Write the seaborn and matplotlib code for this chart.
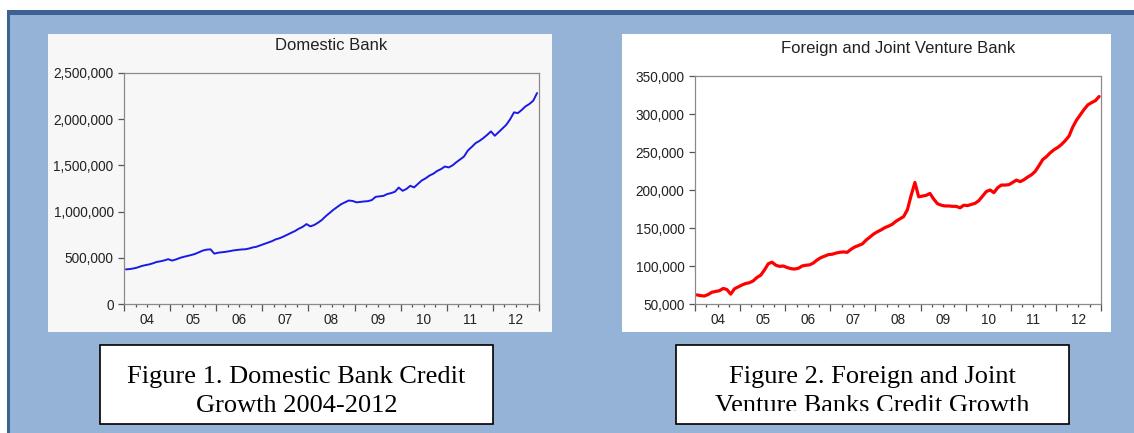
import numpy as np
import matplotlib
matplotlib.use('Agg')
import matplotlib.pyplot as plt
from matplotlib.patches import Rectangle
from matplotlib.ticker import FixedLocator, FuncFormatter
import seaborn as sns

# ── Data (monthly, Jan 2004 - Dec 2012, in thousands) ──
YEAR_LABELS = ['04', '05', '06', '07', '08', '09', '10', '11', '12']

DOMESTIC = [
    375, 378, 385, 395, 410, 420, 428, 440, 455, 462, 472, 485,          # 2004
    470, 482, 498, 510, 520, 530, 542, 560, 578, 588, 592, 545,          # 2005
    555, 560, 565, 572, 580, 585, 590, 592, 600, 612, 620, 635,          # 2006
    650, 665, 680, 700, 712, 730, 750, 770, 790, 815, 835, 865,          # 2007
    840, 855, 880, 910, 950, 985, 1020, 1050, 1080, 1100, 1120, 1115,    # 2008
    1100, 1105, 1110, 1113, 1125, 1160, 1165, 1170, 1190, 1200, 1215, 1260,
    1225, 1245, 1279, 1262, 1300, 1337, 1360, 1390, 1410, 1440, 1460, 1488,
    1478, 1500, 1535, 1565, 1597, 1662, 1700, 1741, 1765, 1795, 1830, 1868,
    1821, 1860, 1900, 1940, 2000, 2074, 2066, 2100, 2139, 2165, 2200, 2283,
]

FOREIGN = [
    62, 61, 60.5, 62.5, 65.5, 66.5, 67.5, 70.5, 69, 63, 70, 72.5,        # 2004
    75, 77, 78, 80.5, 85, 88, 95, 103, 105, 101, 99.5, 100,              # 2005
    98, 96.5, 96, 97, 100, 101, 101.5, 104, 108, 111, 113, 115,          # 2006
    115.5, 117, 118, 118.5, 118, 122, 125, 127, 129, 134, 138, 142,      # 2007
    145, 147.5, 150.5, 152.5, 155, 159, 162, 165, 174, 193, 210, 191,    # 2008
    192, 193, 195.5, 188, 182, 180, 179, 179, 178.5, 178.5, 176.5, 180,  # 2009
    179.5, 181, 182.5, 186, 192, 198, 200, 196.5, 203, 206.5, 206.5, 207,
    210, 213, 211, 213.5, 217, 220, 224.5, 232, 240, 244, 249, 253,
    256, 260, 265, 271, 283, 292, 299, 306, 312, 315, 317.5, 323,
]

DOM_YTICKS = [0, 500000, 1000000, 1500000, 2000000, 2500000]
FOR_YTICKS = [50000, 100000, 150000, 200000, 250000, 300000, 350000]

W, H = 1134, 433
SANS = ['Liberation Sans', 'DejaVu Sans']
SERIF = ['Liberation Serif', 'DejaVu Serif']


def px_box(l, t, r, b):
    """Pixel box (top-left origin) -> figure fraction rect."""
    return [l / W, 1 - b / H, (r - l) / W, (b - t) / H]


def style_axes(ax, values, yticks, color, lw, facecolor):
    x = np.arange(len(values))
    sns.lineplot(x=x, y=np.array(values) * 1000, ax=ax, color=color,
                 linewidth=lw, solid_joinstyle='round')
    ax.set_facecolor(facecolor)
    ax.set_xlim(-0.5, len(values) - 0.5)
    ax.set_ylim(yticks[0], yticks[-1])
    ax.set_xlabel('')
    ax.set_ylabel('')

    for s in ax.spines.values():
        s.set_color('#8a8a8a')
        s.set_linewidth(0.9)
        s.set_visible(True)

    ax.yaxis.set_major_locator(FixedLocator(yticks))
    ax.yaxis.set_major_formatter(FuncFormatter(lambda v, _: f'{v:,.0f}'))
    ax.tick_params(axis='y', which='major', direction='out', length=4.5,
                   width=0.9, color='#555555', pad=3, labelsize=9.8,
                   labelcolor='#222222')

    year_edges = np.arange(-0.5, len(values), 12)
    quarter_edges = [q for q in np.arange(-0.5, len(values), 3)
                     if q not in set(year_edges)]
    ax.xaxis.set_major_locator(FixedLocator(year_edges))
    ax.xaxis.set_minor_locator(FixedLocator(quarter_edges))
    ax.xaxis.set_major_formatter(FuncFormatter(lambda v, _: ''))
    ax.tick_params(axis='x', which='major', direction='out', length=5,
                   width=0.9, color='#555555')
    ax.tick_params(axis='x', which='minor', direction='out', length=2.5,
                   width=0.9, color='#555555')

    for i, lab in enumerate(YEAR_LABELS):
        ax.text(5.5 + 12 * i, -0.07, lab, transform=ax.get_xaxis_transform(),
                ha='center', va='center', fontsize=9.8, color='#222222',
                family=SANS)


sns.set_theme(style='ticks')
plt.rcParams['font.family'] = SANS

fig = plt.figure(figsize=(W / 100, H / 100), dpi=100)
fig.patch.set_facecolor('white')

# ── Background page (blue frame, white panels, caption boxes) ────────────────
bg = fig.add_axes([0, 0, 1, 1], zorder=0)
bg.set_xlim(0, W)
bg.set_ylim(H, 0)
bg.axis('off')

bg.add_patch(Rectangle((7, 10), W - 7, H - 10, color='#95B3D7', lw=0))
bg.add_patch(Rectangle((7, 10), W - 7, 5, color='#3D6190', lw=0))
bg.add_patch(Rectangle((7, 10), 3, H - 10, color='#3D6190', lw=0))
bg.add_patch(Rectangle((48, 34), 504, 298, color='#F7F7F7', lw=0))
bg.add_patch(Rectangle((622, 34), 489, 298, color='white', lw=0))

bg.add_patch(Rectangle((100, 345), 393, 79, facecolor='white',
                       edgecolor='black', lw=1.2))
bg.add_patch(Rectangle((676, 345), 393, 79, facecolor='white',
                       edgecolor='black', lw=1.2))

cap_kw = dict(ha='center', va='center', fontsize=19, color='black',
              family=SERIF)
bg.text(296.5, 377, 'Figure 1. Domestic Bank Credit', **cap_kw)
bg.text(296.5, 406, 'Growth 2004-2012', **cap_kw)
bg.text(872.5, 377, 'Figure 2. Foreign and Joint', **cap_kw)
# second line of caption 2 is cut off at the bottom in the original
clip = Rectangle((676, 345), 393, 66, transform=bg.transData)
t = bg.text(872.5, 406, 'Venture Banks Credit Growth', clip_on=True, **cap_kw)
t.set_clip_path(clip)

# ── Chart 1: Domestic Bank ───────────────────────────────────────────────────
ax1 = fig.add_axes(px_box(124, 73, 539, 304), zorder=1)
style_axes(ax1, DOMESTIC, DOM_YTICKS, '#1a1ae6', 1.4, '#F7F7F7')
bg.text((124 + 539) / 2, 45, 'Domestic Bank', ha='center', va='center',
        fontsize=12, color='#222222', family=SANS)

# ── Chart 2: Foreign and Joint Venture Bank ──────────────────────────────────
ax2 = fig.add_axes(px_box(695, 76, 1101, 304), zorder=1)
style_axes(ax2, FOREIGN, FOR_YTICKS, '#ff0000', 2.3, 'white')
bg.text((695 + 1101) / 2, 48, 'Foreign and Joint Venture Bank', ha='center',
        va='center', fontsize=12, color='#222222', family=SANS)

plt.savefig('out.png', dpi=100)
plt.close()
